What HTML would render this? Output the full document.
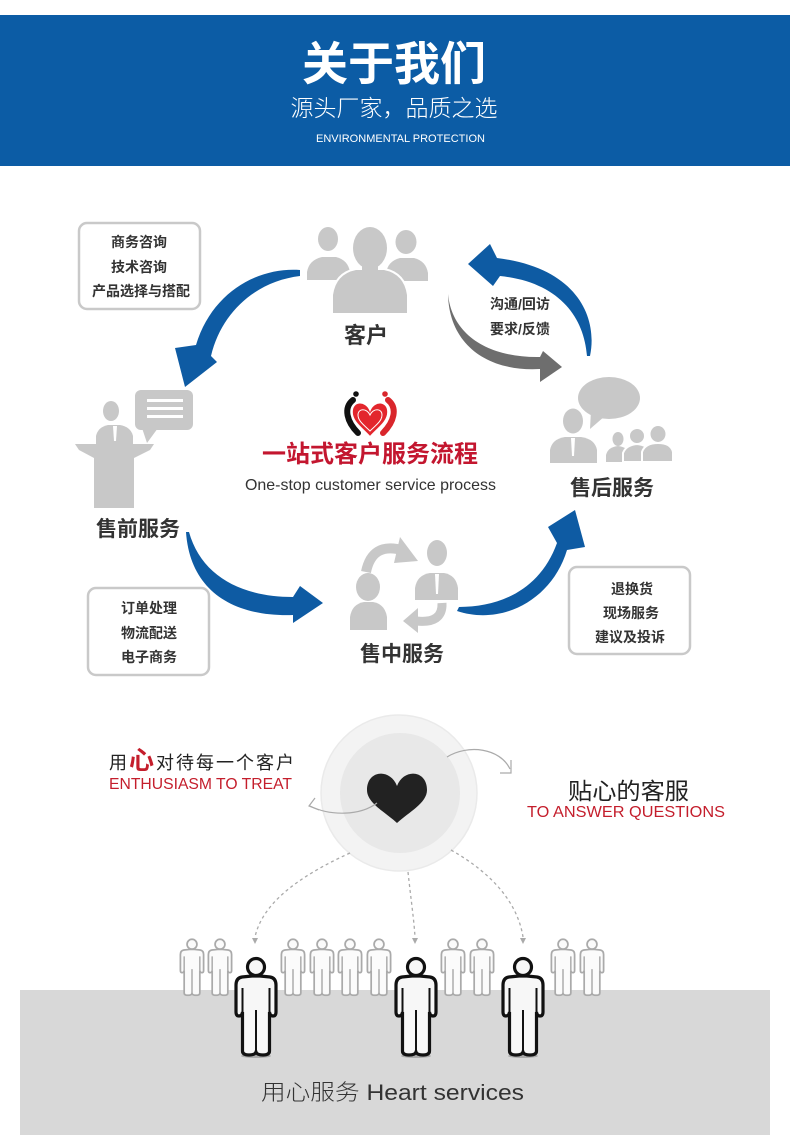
<!DOCTYPE html>
<html><head><meta charset="utf-8">
<style>
html,body{margin:0;padding:0;background:#fff;}
svg{display:block;}
text{font-family:"Liberation Sans","Noto Sans CJK SC",sans-serif;}
.b{font-weight:700;fill:#333;}
</style></head><body>
<svg width="790" height="1145" viewBox="0 0 790 1145" xmlns="http://www.w3.org/2000/svg">
<defs>
<path id="pb" d="M-4,18 L-14,19 Q-20,20 -20,27 L-20,54 Q-20,58 -17,58 Q-14,58 -13.5,54 L-13.5,93 Q-13.5,97 -7,97 Q-1,97 0,94 Q1,97 7,97 Q13.5,97 13.5,93 L13.5,54 Q14,58 17,58 Q20,58 20,54 L20,27 Q20,20 14,19 L4,18 Z"/>
<path id="pi" d="M-13.5,30 L-13.5,54 M13.5,30 L13.5,54 M0,52 L0,95" fill="none"/>
</defs>

<!-- Header -->
<rect x="0" y="15" width="790" height="151" fill="#0c5ca5"/>
<text x="394" y="80" text-anchor="middle" font-size="46" font-weight="700" fill="#fff">关于我们</text>
<text x="394" y="116" text-anchor="middle" font-size="23" font-weight="300" fill="#fff">源头厂家，品质之选</text>
<text x="316" y="142" font-size="11" fill="#fff" textLength="169" lengthAdjust="spacing">ENVIRONMENTAL PROTECTION</text>

<!-- Boxes -->
<g fill="#fff" stroke="#c9c9c9" stroke-width="2.5">
<rect x="79" y="223" width="121" height="86" rx="8"/>
<rect x="88" y="588" width="121" height="87" rx="8"/>
<rect x="569" y="567" width="121" height="87" rx="8"/>
</g>
<g class="b" font-size="14" text-anchor="middle">
<text class="b" x="139" y="247">商务咨询</text>
<text class="b" x="139" y="272">技术咨询</text>
<text class="b" x="141" y="296">产品选择与搭配</text>
<text class="b" x="149" y="613">订单处理</text>
<text class="b" x="149" y="638">物流配送</text>
<text class="b" x="149" y="662">电子商务</text>
<text class="b" x="632" y="594">退换货</text>
<text class="b" x="631" y="618">现场服务</text>
<text class="b" x="630" y="642">建议及投诉</text>
</g>
<text class="b" x="490" y="309" font-size="14">沟通/回访</text>
<text class="b" x="490" y="334" font-size="14">要求/反馈</text>

<!-- Stage labels -->
<text class="b" x="366" y="343" font-size="22" text-anchor="middle">客户</text>
<text class="b" x="138" y="536" font-size="21" text-anchor="middle">售前服务</text>
<text class="b" x="402" y="661" font-size="21" text-anchor="middle">售中服务</text>
<text class="b" x="612" y="495" font-size="21" text-anchor="middle">售后服务</text>

<!-- Center title -->
<text x="370" y="462" font-size="24" font-weight="700" fill="#c3162f" text-anchor="middle">一站式客户服务流程</text>
<text x="245" y="490" font-size="16" fill="#333" textLength="251" lengthAdjust="spacingAndGlyphs">One-stop customer service process</text>

<!-- Logo -->
<g>
<circle cx="356" cy="394" r="2.8" fill="#111"/>
<circle cx="385" cy="394" r="2.8" fill="#d9262c"/>
<path d="M353,400 C343,408 347,422 358,433" stroke="#111" stroke-width="6" fill="none" stroke-linecap="round"/>
<path d="M388,400 C398,408 394,422 383,433" stroke="#d9262c" stroke-width="6" fill="none" stroke-linecap="round"/>
<path d="M370,410 C366,400 352,400 352,412 C352,422 362,428 370,437 C378,428 388,422 388,412 C388,400 374,400 370,410 Z" fill="#e3262d" stroke="#fff" stroke-width="1.6"/>
<path d="M370,415 C367,408 358,408 358,415 C358,421 364,425 370,431 C376,425 382,421 382,415 C382,408 373,408 370,415 Z" fill="none" stroke="#fff" stroke-width="1"/>
</g>

<!-- Blue arrows -->
<g fill="#0e5ba3">
<path d="M300,270 C258,267 212,292 196,345 L175,348 L185,387 L217,362 L211,356 C222,310 258,281 300,276 Z"/>
<path d="M590,356 C598,318 578,268 497,258 L490,244 L468,264 L493,286 L500,276 C558,282 584,316 587,356 Z"/>
<path d="M186,532 C190,590 232,617 293,615 L293,623 L323,603 L300,586 L293,597 C240,597 201,575 189,532 Z"/>
<path d="M457,611 C502,626 552,600 567,550 L585,547 L575,510 L548,527 L557,543 C540,590 500,607 459,607 Z"/>
</g>
<path d="M448,294 C452,336 490,358 540,357 L543,351 L562,367 L540,382 L540,369 C488,372 449,345 448,294 Z" fill="#6e6e6e"/>

<!-- Customer icon -->
<g fill="#c8c8c8">
<ellipse cx="328" cy="239" rx="10" ry="12"/>
<path d="M307,280 L307,272 Q309,260 322,257 L336,257 Q348,260 350,272 L350,280 Z"/>
<ellipse cx="406" cy="242" rx="10.5" ry="12"/>
<path d="M386,281 L386,273 Q388,261 400,258 L414,258 Q426,261 428,273 L428,281 Z"/>
<g stroke="#fff" stroke-width="4">
<ellipse cx="370" cy="248" rx="17" ry="21"/>
<path d="M333,313 L333,295 Q336,274 356,270 L384,270 Q404,274 407,295 L407,313 Z"/>
</g>
<ellipse cx="370" cy="248" rx="17" ry="21"/>
<path d="M333,313 L333,295 Q336,274 356,270 L384,270 Q404,274 407,295 L407,313 Z"/>
<rect x="362" y="262" width="16" height="10"/>
</g>

<!-- Podium icon -->
<g fill="#c8c8c8">
<rect x="135" y="390" width="58" height="40" rx="6"/>
<path d="M142,428 L147,443 L158,428 Z"/>
<ellipse cx="111" cy="411" rx="8" ry="10"/>
<path d="M96,448 L96,436 Q98,427 108,425 L120,425 Q131,427 133,436 L133,448 Z"/>
<path d="M75,444 L154,444 L150,450 L134,458 L134,508 L94,508 L94,458 L79,450 Z"/>
</g>
<g fill="#fff">
<rect x="147" y="399" width="36" height="3"/>
<rect x="147" y="407" width="36" height="3"/>
<rect x="147" y="415" width="36" height="3"/>
<path d="M113,426 L117,426 L116,441 L114,441 Z"/>
</g>

<!-- Mid-sale icon -->
<g fill="#c8c8c8">
<path d="M366,572 Q372,542 402,550" stroke="#c8c8c8" stroke-width="10" fill="none"/>
<path d="M400,537 L418,561 L394,563 Z"/>
<ellipse cx="437" cy="553" rx="10" ry="13"/>
<path d="M415,600 L415,588 Q417,575 430,573 L444,573 Q456,575 458,588 L458,600 Z"/>
<ellipse cx="368" cy="587" rx="12" ry="14"/>
<path d="M350,630 L350,617 Q352,604 364,602 L373,602 Q385,604 387,617 L387,630 Z"/>
<path d="M442,603 Q443,624 416,621" stroke="#c8c8c8" stroke-width="9" fill="none"/>
<path d="M418,608 L403,621 L418,633 Z"/>
</g>
<path d="M435,574 L439,574 L438,594 L436,594 Z" fill="#fff"/>

<!-- After-sales icon -->
<g fill="#c8c8c8">
<ellipse cx="609" cy="398" rx="31" ry="21"/>
<path d="M591,410 L590,429 L605,416 Z"/>
<ellipse cx="573" cy="421" rx="10" ry="12.5"/>
<path d="M550,463 L550,450 Q552,439 565,437 L581,437 Q595,439 597,450 L597,463 Z"/>
<ellipse cx="618" cy="439" rx="5.5" ry="7"/>
<path d="M606,462 L606,455 Q608,447 618,446 Q628,447 630,455 L630,462 Z"/>
<g stroke="#fff" stroke-width="2">
<ellipse cx="637" cy="436" rx="8" ry="8"/>
<path d="M623,462 L623,453 Q626,445 637,444 Q648,445 651,453 L651,462 Z"/>
<ellipse cx="658" cy="434" rx="8.5" ry="9"/>
<path d="M642,462 L642,452 Q645,443 658,443 Q671,443 673,452 L673,462 Z"/>
</g>
</g>
<path d="M571,438 L575,438 L574,456 L572,456 Z" fill="#fff"/>

<!-- Heart section -->
<circle cx="399" cy="793" r="78" fill="#f3f3f3" stroke="#eaeaea" stroke-width="1.5"/>
<circle cx="400" cy="793" r="60" fill="#e8e8e8"/>
<path d="M397,786 C390,768 367,770 367,790 C367,803 385,812 397,823 C409,812 427,803 427,790 C427,770 404,768 397,786 Z" fill="#222"/>
<g fill="none" stroke="#aaa" stroke-width="1.2">
<path d="M447,757 C468,744 500,748 510,769"/>
<polyline points="500,773 511,773 511,760"/>
<path d="M377,803 C360,816 330,816 310,806"/>
<polyline points="315,798 309,806 319,810"/>
</g>
<text x="109" y="769" font-size="18" fill="#222" letter-spacing="2">用<tspan fill="#c41e2c" font-size="25" font-weight="700">心</tspan>对待每一个客户</text>
<text x="109" y="789" font-size="16" fill="#c41e2c" textLength="183" lengthAdjust="spacingAndGlyphs">ENTHUSIASM TO TREAT</text>
<text x="568" y="799" font-size="23" fill="#222" textLength="121" lengthAdjust="spacingAndGlyphs">贴心的客服</text>
<text x="527" y="817" font-size="16" fill="#c41e2c" textLength="198" lengthAdjust="spacingAndGlyphs">TO ANSWER QUESTIONS</text>

<g fill="none" stroke="#aaa" stroke-width="1.3" stroke-dasharray="3,3">
<path d="M350,853 C295,878 262,905 255,937"/>
<path d="M408,872 C411,900 414,920 415,937"/>
<path d="M451,850 C495,875 518,905 523,937"/>
</g>
<g fill="#aaa">
<path d="M252,938 L258,938 L255,944 Z"/>
<path d="M412,938 L418,938 L415,944 Z"/>
<path d="M520,938 L526,938 L523,944 Z"/>
</g>

<!-- Gray floor -->
<rect x="20" y="990" width="750" height="145" fill="#d8d8d8"/>

<!-- Small people -->
<g stroke="#aaa" stroke-width="3" fill="#fbfbfb">
<g transform="translate(192,939) scale(0.58)"><use href="#pb"/><use href="#pi" stroke-width="2.5"/><circle cx="0" cy="9" r="8.5"/></g>
<g transform="translate(220,939) scale(0.58)"><use href="#pb"/><use href="#pi" stroke-width="2.5"/><circle cx="0" cy="9" r="8.5"/></g>
<g transform="translate(293,939) scale(0.58)"><use href="#pb"/><use href="#pi" stroke-width="2.5"/><circle cx="0" cy="9" r="8.5"/></g>
<g transform="translate(322,939) scale(0.58)"><use href="#pb"/><use href="#pi" stroke-width="2.5"/><circle cx="0" cy="9" r="8.5"/></g>
<g transform="translate(350,939) scale(0.58)"><use href="#pb"/><use href="#pi" stroke-width="2.5"/><circle cx="0" cy="9" r="8.5"/></g>
<g transform="translate(379,939) scale(0.58)"><use href="#pb"/><use href="#pi" stroke-width="2.5"/><circle cx="0" cy="9" r="8.5"/></g>
<g transform="translate(453,939) scale(0.58)"><use href="#pb"/><use href="#pi" stroke-width="2.5"/><circle cx="0" cy="9" r="8.5"/></g>
<g transform="translate(482,939) scale(0.58)"><use href="#pb"/><use href="#pi" stroke-width="2.5"/><circle cx="0" cy="9" r="8.5"/></g>
<g transform="translate(563,939) scale(0.58)"><use href="#pb"/><use href="#pi" stroke-width="2.5"/><circle cx="0" cy="9" r="8.5"/></g>
<g transform="translate(592,939) scale(0.58)"><use href="#pb"/><use href="#pi" stroke-width="2.5"/><circle cx="0" cy="9" r="8.5"/></g>
</g>

<!-- Big people -->
<g fill="#8a8a8a" opacity="0.6">
<ellipse cx="256" cy="1056" rx="15" ry="2"/>
<ellipse cx="416" cy="1056" rx="15" ry="2"/>
<ellipse cx="523" cy="1056" rx="15" ry="2"/>
</g>
<g stroke="#ccc" stroke-width="1">
<line x1="243" y1="1008" x2="269" y2="1008"/>
<line x1="403" y1="1008" x2="429" y2="1008"/>
<line x1="510" y1="1008" x2="536" y2="1008"/>
</g>
<g stroke="#111" stroke-width="3.2" fill="#f7f7f7">
<g transform="translate(256,958)"><use href="#pb"/><use href="#pi" stroke-width="2"/><circle cx="0" cy="9" r="8.5"/></g>
<g transform="translate(416,958)"><use href="#pb"/><use href="#pi" stroke-width="2"/><circle cx="0" cy="9" r="8.5"/></g>
<g transform="translate(523,958)"><use href="#pb"/><use href="#pi" stroke-width="2"/><circle cx="0" cy="9" r="8.5"/></g>
</g>

<text x="261" y="1100" font-size="22" font-weight="300" fill="#333" textLength="263" lengthAdjust="spacingAndGlyphs">用心服务 Heart services</text>
</svg>
</body></html>
